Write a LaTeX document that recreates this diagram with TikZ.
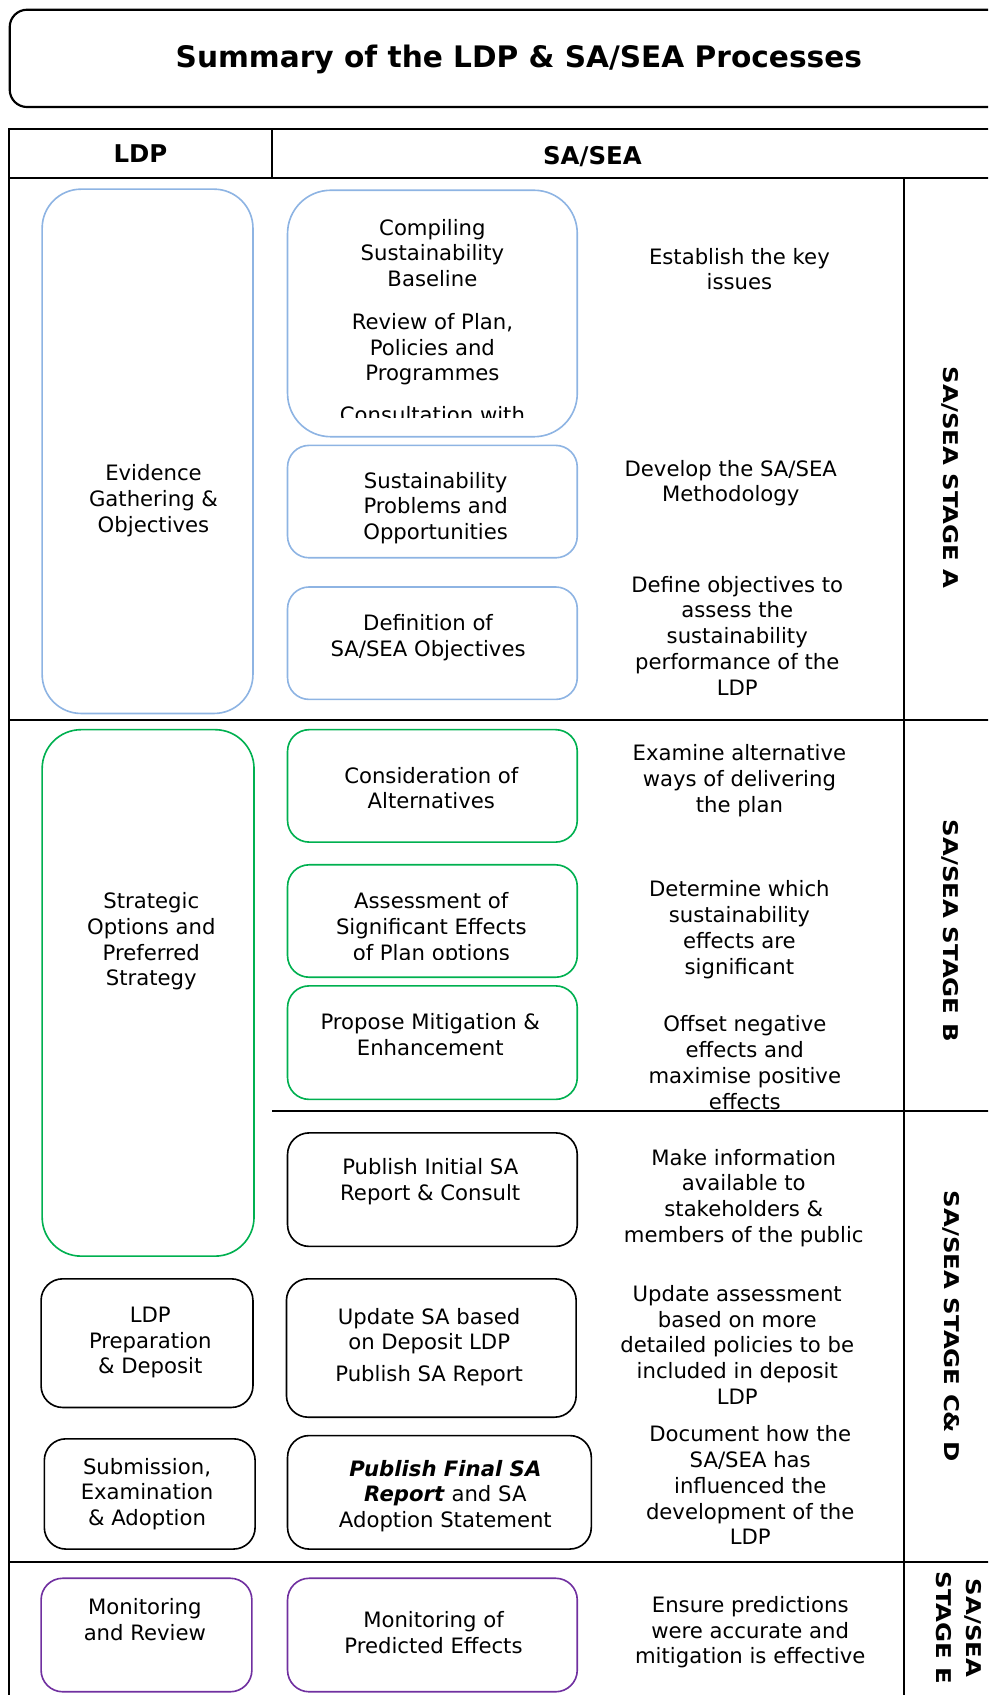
\documentclass[tikz,border=0pt]{standalone}
\usepackage{fontspec}
\setmainfont{DejaVu Sans}
\usepackage{tikz}
\usetikzlibrary{fit}
\definecolor{sablue}{HTML}{8EB4E3}
\definecolor{sagreen}{HTML}{00B050}
\definecolor{sapurple}{HTML}{7030A0}

\begin{document}
\begin{tikzpicture}[x=0.5pt,y=-0.5pt,
  txt/.style={align=center,font=\fontsize{9.8}{11.9}\selectfont},
  hd/.style={font=\fontsize{11.3}{13}\selectfont\bfseries},
  stagelbl/.style={align=center,rotate=-90,xscale=1.2,font=\fontsize{9.4}{14}\selectfont\bfseries},
  box/.style={draw,line width=0.75pt,inner sep=0pt,rounded corners=10pt},
  tline/.style={line width=1pt}]
  \clip (0,0) rectangle (914,1568);
  % title
  \node[box,line width=1pt,rounded corners=8pt,fit={(9,9) (1000,99)}] (ttlbox) {};
  \node[font=\fontsize{13.7}{16}\selectfont\bfseries] (ttl) at (480,55) {Summary of the LDP \& SA/SEA Processes};
  % table rules
  \draw[tline] (1000,119) -- (8,119) -- (8,1600);
  \draw[tline] (8,165) -- (1000,165);
  \draw[tline] (252,119) -- (252,165);
  \draw[tline] (836,165) -- (836,1600);
  \draw[tline] (8,666) -- (1000,666);
  \draw[tline] (252,1028) -- (1000,1028);
  \draw[tline] (8,1445) -- (1000,1445);
  \node[hd] (ldp) at (130,142) {LDP};
  \node[hd] (sasea) at (548,145) {SA/SEA};
  % stage labels
  \node[stagelbl] (stA) at (879,442) {SA/SEA STAGE A};
  \node[stagelbl] (stB) at (879,861) {SA/SEA STAGE B};
  \node[stagelbl] (stCD) at (880,1227) {SA/SEA STAGE C\& D};
  \node[stagelbl] (stE) at (887,1506) {SA/SEA\\STAGE E};
  % LDP column
  \node[box,draw=sablue,rounded corners=18pt,fit={(39,175) (234,660)}] (evid) {};
  \node[txt] (evidt) at (142,463) {Evidence\\Gathering \&\\Objectives};
  \node[box,draw=sagreen,rounded corners=18pt,fit={(39,675) (235,1162)}] (strat) {};
  \node[txt] (stratt) at (140,871) {Strategic\\Options and\\Preferred\\Strategy};
  \node[box,fit={(38,1183) (234,1302)}] (prep) {};
  \node[txt] (prept) at (139,1242) {LDP\\Preparation\\\& Deposit};
  \node[box,fit={(41,1331) (236,1433)}] (subm) {};
  \node[txt] (submt) at (136,1382) {Submission,\\Examination\\\& Adoption};
  \node[box,draw=sapurple,fit={(38,1460) (233,1565)}] (monr) {};
  \node[txt] (monrt) at (134,1498) {Monitoring\\and Review};
  % SA/SEA column
  \node[box,draw=sablue,rounded corners=20pt,fit={(266,176) (534,404)}] (base) {};
  \begin{scope}
    \clip (266,176) rectangle (534,386.5);
    \node[txt] (baset) at (400,297) {Compiling\\Sustainability\\Baseline\\[8pt]Review of Plan,\\Policies and\\Programmes\\[7.5pt]Consultation with};
  \end{scope}
  \node[box,draw=sablue,fit={(266,412) (534,516)}] (probs) {};
  \node[txt] (probst) at (403,470) {Sustainability\\Problems and\\Opportunities};
  \node[box,draw=sablue,fit={(266,543) (534,647)}] (objs) {};
  \node[txt] (objst) at (396,590) {Definition of\\SA/SEA Objectives};
  \node[box,draw=sagreen,fit={(266,675) (534,779)}] (alts) {};
  \node[txt] (altst) at (399,729) {Consideration of\\Alternatives};
  \node[box,draw=sagreen,fit={(266,800) (534,904)}] (effs) {};
  \begin{scope}
    \clip (266,800) rectangle (534,887.5);
    \node[txt] (effst) at (399,859) {Assessment of\\Significant Effects\\of Plan options};
  \end{scope}
  \node[box,draw=sagreen,fit={(266,912) (534,1017)}] (mitig) {};
  \node[txt] (mitigt) at (398,957) {Propose Mitigation \&\\Enhancement};
  \node[box,fit={(266,1048) (534,1153)}] (initial) {};
  \node[txt] (initialt) at (398,1093) {Publish Initial SA\\Report \& Consult};
  \node[box,fit={(265,1183) (533,1311)}] (update) {};
  \node[txt] (updatet) at (397,1246) {Update SA based\\on Deposit LDP\\[2.7pt]Publish SA Report};
  \node[box,fit={(266,1328) (547,1433)}] (final) {};
  \node[txt] (finalt) at (412,1384) {\textbf{\textit{Publish Final SA}}\\\textbf{\textit{Report}} and SA\\Adoption Statement};
  \node[box,draw=sapurple,fit={(266,1460) (534,1565)}] (monfx) {};
  \node[txt] (monfxt) at (401,1510) {Monitoring of\\Predicted Effects};
  % descriptions
  \node[txt] (keyiss) at (684,249) {Establish the key\\issues};
  \node[txt] (method) at (676,447) {Develop the SA/SEA\\Methodology};
  \node[txt] (defobj) at (682,588) {Define objectives to\\assess the\\sustainability\\performance of the\\LDP};
  \node[txt] (examalt) at (684,722) {Examine alternative\\ways of delivering\\the plan};
  \node[txt] (detsig) at (684,860) {Determine which\\sustainability\\effects are\\significant};
  \node[txt] (offset) at (689,983) {Offset negative\\effects and\\maximise positive\\effects};
  \node[txt] (makeinf) at (688,1108) {Make information\\available to\\stakeholders \&\\members of the public};
  \node[txt] (updass) at (682,1244) {Update assessment\\based on more\\detailed policies to be\\included in deposit\\LDP};
  \node[txt] (docum) at (694,1374) {Document how the\\SA/SEA has\\influenced the\\development of the\\LDP};
  \node[txt] (ensure) at (694,1510) {Ensure predictions\\were accurate and\\mitigation is effective};
\end{tikzpicture}
\end{document}
